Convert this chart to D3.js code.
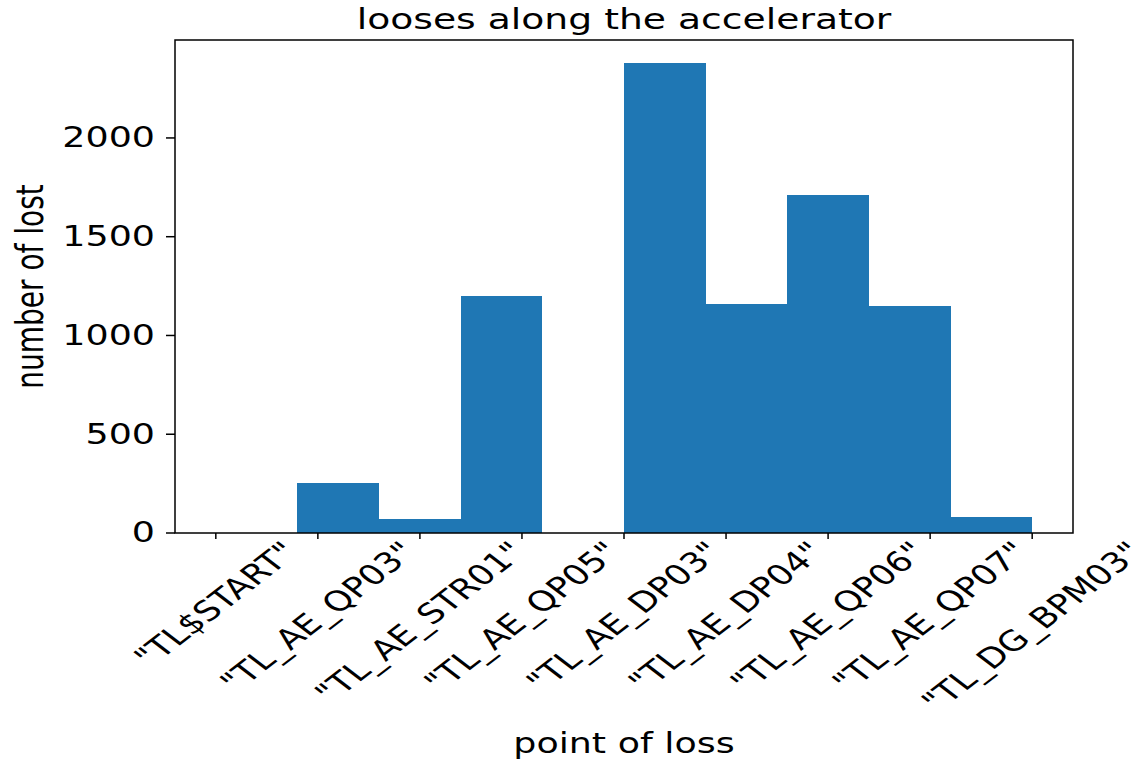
<!DOCTYPE html>
<html>
<head>
<meta charset="utf-8">
<script src="https://cdn.jsdelivr.net/npm/d3@7"></script>
<style>
  html, body { margin: 0; padding: 0; background: #fff; }
  text { font-family: "DejaVu Sans", sans-serif; fill: #000; }
</style>
</head>
<body>
<svg id="chart" width="1131" height="759"></svg>
<script>
// ---- data ----
const categories = ['"TL$START"', '"TL_AE_QP03"', '"TL_AE_STR01"', '"TL_AE_QP05"', '"TL_AE_DP03"',
                    '"TL_AE_DP04"', '"TL_AE_QP06"', '"TL_AE_QP07"', '"TL_DG_BPM03"'];
const binEdges = [0, 0.8, 1.6, 2.4, 3.2, 4.0, 4.8, 5.6, 6.4, 7.2, 8.0];
const counts = [0, 254, 71, 1198, 0, 2377, 1161, 1710, 1150, 82];
const yTicks = [0, 500, 1000, 1500, 2000];
const titleText = "looses along the accelerator";
const xLabelText = "point of loss";
const yLabelText = "number of lost";

// ---- layout ----
const W = 1131, H = 759;
const plot = { left: 175, right: 1073, top: 40, bottom: 533 };
const sx = 1.3;          // horizontal text stretch seen in the reference
const fs = 28;
const barColor = "#1f77b4";

const svg = d3.select("#chart");
svg.append("rect").attr("width", W).attr("height", H).attr("fill", "#fff");

const x = d3.scaleLinear().domain([-0.4, categories.length - 1 + 0.4]).range([plot.left, plot.right]);
const y = d3.scaleLinear().domain([0, d3.max(counts) * 1.05]).range([plot.bottom, plot.top]);

const bins = counts.map((c, i) => ({ x0: binEdges[i], x1: binEdges[i + 1], c }));

svg.append("g").selectAll("rect").data(bins.filter(b => b.c > 0)).join("rect")
  .attr("x", d => x(d.x0))
  .attr("width", d => x(d.x1) - x(d.x0))
  .attr("y", d => y(d.c))
  .attr("height", d => y(0) - y(d.c))
  .attr("fill", barColor)
  .attr("shape-rendering", "crispEdges");

// spines
svg.append("rect")
  .attr("x", plot.left).attr("y", plot.top)
  .attr("width", plot.right - plot.left).attr("height", plot.bottom - plot.top)
  .attr("fill", "none").attr("stroke", "#000").attr("stroke-width", 1.5);

// y ticks
const yg = svg.append("g");
yTicks.forEach(t => {
  yg.append("line").attr("x1", plot.left - 9).attr("x2", plot.left)
    .attr("y1", y(t)).attr("y2", y(t)).attr("stroke", "#000").attr("stroke-width", 1.5);
  yg.append("text")
    .attr("transform", `translate(${plot.left - 20},${y(t)}) scale(${sx},1)`)
    .attr("text-anchor", "end").attr("dominant-baseline", "central")
    .attr("font-size", fs).text(d3.format("d")(t));
});

// x ticks
const xg = svg.append("g");
categories.forEach((c, i) => {
  xg.append("line").attr("x1", x(i)).attr("x2", x(i))
    .attr("y1", plot.bottom).attr("y2", plot.bottom + 6).attr("stroke", "#000").attr("stroke-width", 1.5);
  const g = xg.append("g").attr("transform", `translate(${x(i)},${plot.bottom + 3}) scale(${sx},1)`);
  const t = g.append("text")
    .attr("text-anchor", "middle").attr("dominant-baseline", "central")
    .attr("font-size", fs).text(c);
  const L = t.node().getComputedTextLength();
  const h = fs * 1.1;
  const half = (L + h) * Math.SQRT1_2 / 2;
  t.attr("transform", `translate(0,${half}) rotate(-45)`);
});

// title
svg.append("text")
  .attr("transform", `translate(${(plot.left + plot.right) / 2},29) scale(${sx},1)`)
  .attr("text-anchor", "middle").attr("font-size", 29).text(titleText);

// x label
svg.append("text")
  .attr("transform", `translate(${(plot.left + plot.right) / 2},753) scale(${sx},1)`)
  .attr("text-anchor", "middle").attr("font-size", fs).text(xLabelText);

// y label
svg.append("text")
  .attr("transform", `translate(43,${(plot.top + plot.bottom) / 2}) scale(${sx},1) rotate(-90)`)
  .attr("text-anchor", "middle").attr("font-size", fs).text(yLabelText);
</script>
</body>
</html>
